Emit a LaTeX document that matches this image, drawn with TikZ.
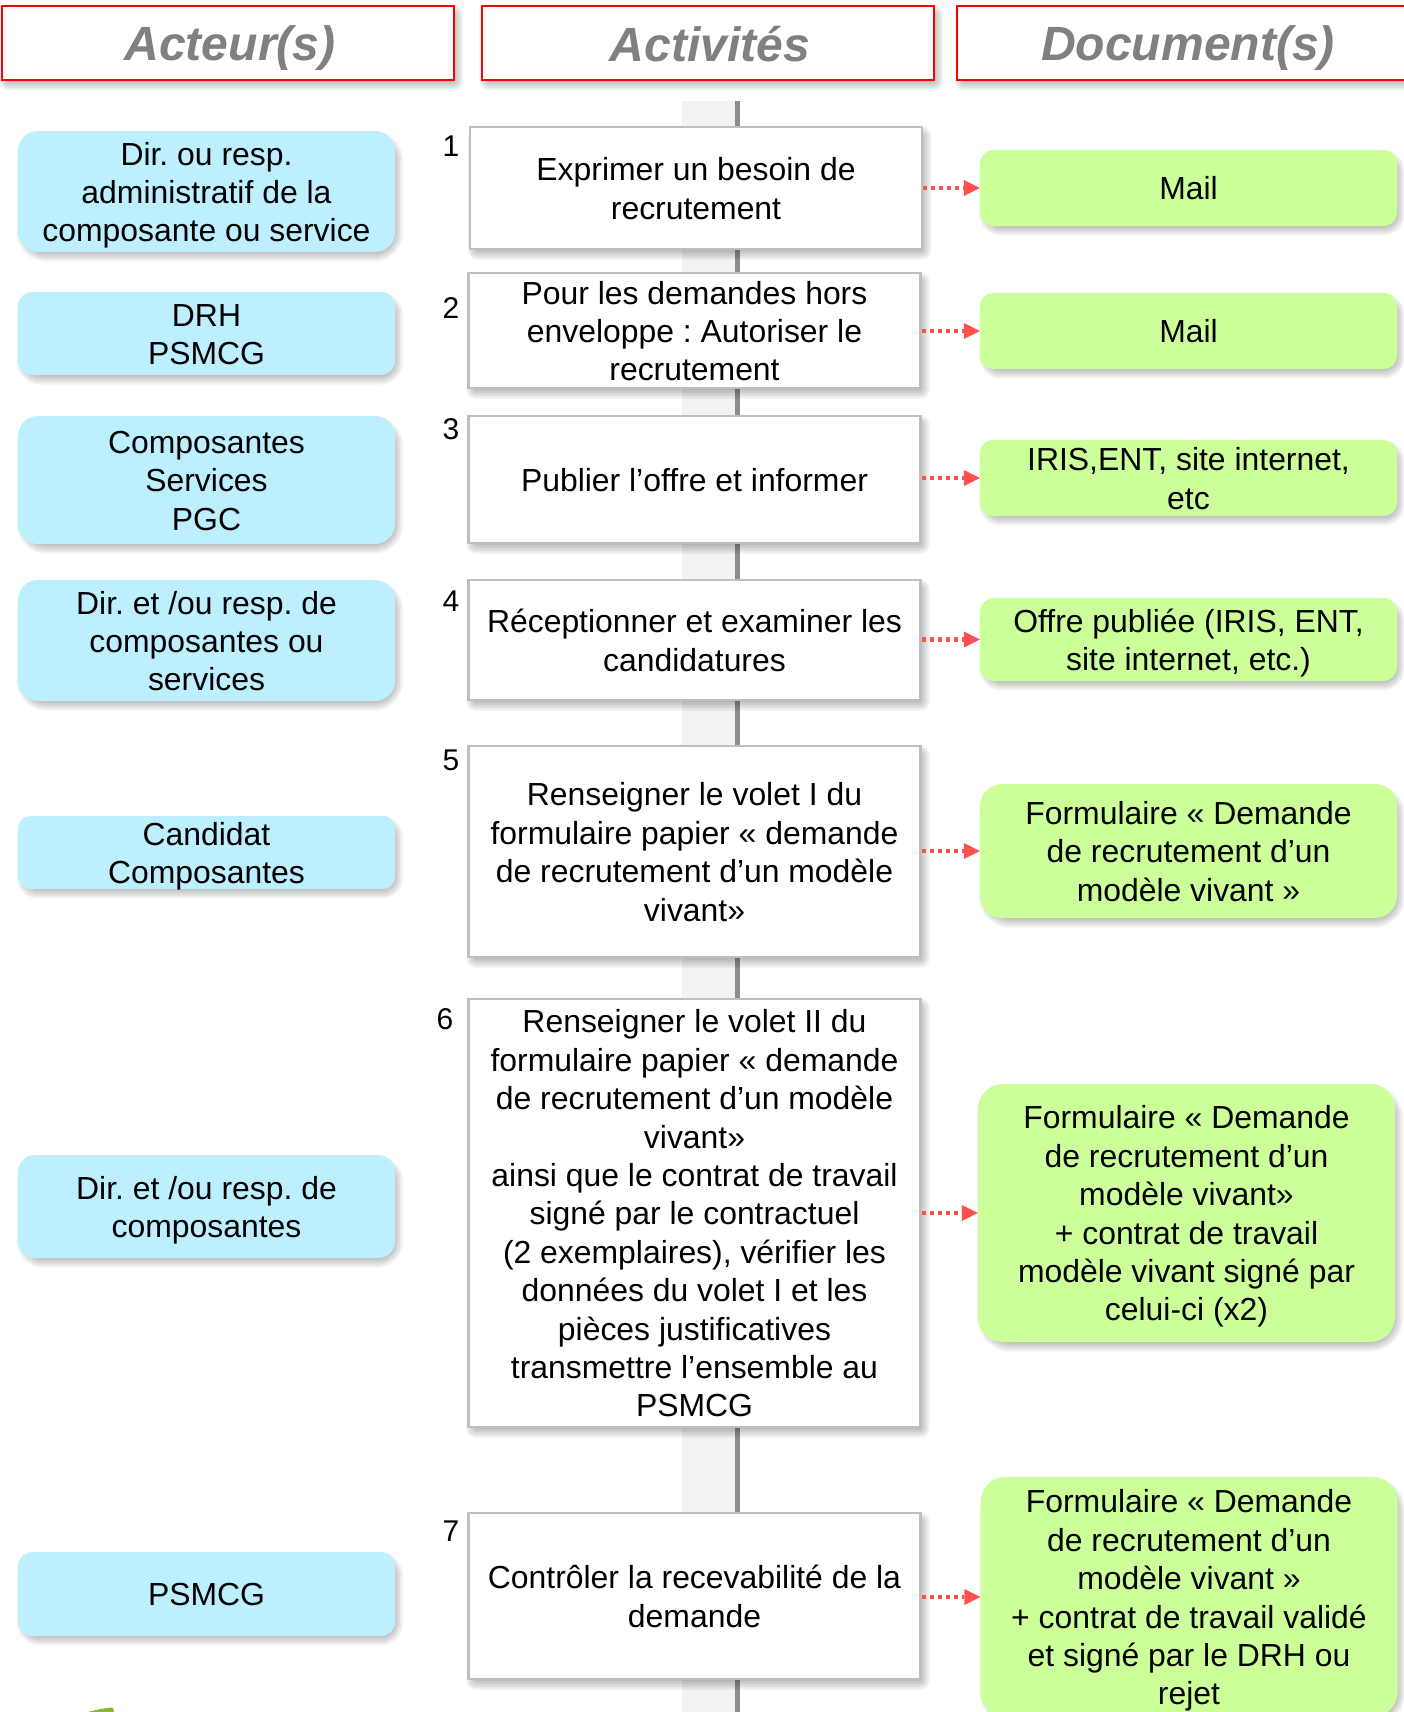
\documentclass[tikz,border=0pt]{standalone}
\usepackage{fontspec}
\setmainfont{Liberation Sans}
\usetikzlibrary{arrows.meta}
\pgfdeclarelayer{backdrop}
\pgfsetlayers{backdrop,main}
\definecolor{actorblue}{HTML}{BDEFFF}
\definecolor{docgreen}{HTML}{CCFF99}
\definecolor{headgray}{HTML}{808080}
\definecolor{boxgray}{HTML}{BFBFBF}
\definecolor{arrowred}{HTML}{FF5050}
\definecolor{spinefill}{HTML}{F2F2F2}
\definecolor{spineedge}{HTML}{8C8C8C}
\definecolor{leafgreen}{HTML}{8DB33A}
\tikzset{
  wh/.style 2 args={minimum width=#1bp,minimum height=#2bp},
  nlines/.code={\pgfmathsetlengthmacro\blockheight{(23.8+38.4*(#1-1))*1bp}\tikzset{text height=\blockheight,text depth=0bp}},
  bodytext/.style={font=\fontsize{31.9bp}{38.4bp}\selectfont\frenchspacing,align=center,inner sep=0pt,text=black},
  header/.style={draw=red,fill=white,line width=2.5bp,inner sep=0pt,
    font=\fontsize{48.1bp}{54bp}\selectfont\bfseries\itshape,text=headgray,
    execute at begin node={\rule{0pt}{45bp}\hspace*{4bp}},
    execute at end node={\rule[-9bp]{0pt}{9bp}}},
  actorbox/.style={bodytext,fill=actorblue},
  activity/.style={bodytext,draw=boxgray,fill=white,line width=2.5bp},
  docbox/.style={bodytext,fill=docgreen},
  stepnum/.style={font=\fontsize{30bp}{34bp}\selectfont,inner sep=0pt,text=black},
  flow/.style={draw=arrowred,line width=4.2bp,dash pattern=on 4bp off 4bp,
    -{Triangle[length=16bp,width=16bp,fill=arrowred,line width=0pt,sep=0pt]}},
  shadowlayer/.style={fill=black,opacity=.04},
}
\begin{document}
\begin{tikzpicture}[x=1bp,y=-1bp]
\path[use as bounding box,clip] (0,0) rectangle (1404,1712);
\begin{pgfonlayer}{backdrop}
\clip (0,0) rectangle (1404,1712);
\fill[white] (0,0) rectangle (1404,1712);
% spine
\fill[spineedge] (735,101) rectangle (739.5,1712);
\fill[spinefill] (682,101) rectangle (735,1712);
\end{pgfonlayer}
% headers
\node[header,wh={452}{73.5}] (h1) at (228,43) {Acteur(s)};
\node[header,wh={452}{73.5}] (h2) at (708,43) {Activités};
\node[header,wh={458}{73.5}] (h3) at (1186,43) {Document(s)};
% actors
\node[actorbox,nlines=3,wh={377}{121},rounded corners=20bp] (a1) at (206.5,191.5) {Dir. ou resp.\\administratif de la\\composante ou service};
\node[actorbox,nlines=2,wh={377}{83},rounded corners=14bp] (a2) at (206.5,333.5) {DRH\\PSMCG};
\node[actorbox,nlines=3,wh={377}{128},rounded corners=20bp] (a3) at (206.5,480) {Composantes\\Services\\PGC};
\node[actorbox,nlines=3,wh={377}{121},rounded corners=20bp] (a4) at (206.5,640.5) {Dir. et /ou resp. de\\composantes ou\\services};
\node[actorbox,nlines=2,wh={377}{73},rounded corners=12bp] (a5) at (206.5,852.5) {Candidat\\Composantes};
\node[actorbox,nlines=2,wh={377}{103},rounded corners=17bp] (a6) at (206.5,1206.5) {Dir. et /ou resp. de\\composantes};
\node[actorbox,nlines=1,wh={377}{84},rounded corners=14bp] (a7) at (206.5,1594) {PSMCG};
% activities
\node[activity,nlines=2,wh={452}{122}] (b1) at (696,188) {Exprimer un besoin de\\recrutement};
\node[activity,nlines=3,wh={452}{115}] (b2) at (694.5,330.5) {Pour les demandes hors\\enveloppe : Autoriser le\\recrutement};
\node[activity,nlines=1,wh={452}{127}] (b3) at (694.5,479.5) {Publier l’offre et informer};
\node[activity,nlines=2,wh={452}{120}] (b4) at (694.5,640) {Réceptionner et examiner les\\candidatures};
\node[activity,nlines=4,wh={452}{211}] (b5) at (694.5,851.5) {Renseigner le volet I du\\formulaire papier « demande\\de recrutement d’un modèle\\vivant»};
\node[activity,nlines=11,wh={452}{428}] (b6) at (694.5,1213) {Renseigner le volet II du\\formulaire papier « demande\\de recrutement d’un modèle\\vivant»\\ainsi que le contrat de travail\\signé par le contractuel\\(2 exemplaires), vérifier les\\données du volet I et les\\pièces justificatives\\transmettre l’ensemble au\\PSMCG};
\node[activity,nlines=2,wh={452}{166}] (b7) at (694.5,1596) {Contrôler la recevabilité de la\\demande};
% documents
\node[docbox,nlines=1,wh={417}{76},rounded corners=13bp] (d1) at (1188.5,188) {Mail};
\node[docbox,nlines=1,wh={417}{76},rounded corners=13bp] (d2) at (1188.5,331) {Mail};
\node[docbox,nlines=2,wh={417}{76},rounded corners=13bp] (d3) at (1188.5,478) {IRIS,ENT, site internet,\\etc};
\node[docbox,nlines=2,wh={417}{83},rounded corners=14bp] (d4) at (1188.5,639.5) {Offre publiée (IRIS, ENT,\\site internet, etc.)};
\node[docbox,nlines=3,wh={417}{134},rounded corners=22bp] (d5) at (1188.5,851) {Formulaire « Demande\\de recrutement d’un\\modèle vivant »};
\node[docbox,nlines=6,wh={417}{258},rounded corners=25bp] (d6) at (1186.5,1213) {Formulaire « Demande\\de recrutement d’un\\modèle vivant»\\+ contrat de travail\\modèle vivant signé par\\celui-ci (x2)};
\node[docbox,nlines=6,wh={417}{240},rounded corners=25bp] (d7) at (1189,1597) {Formulaire « Demande\\de recrutement d’un\\modèle vivant »\\+ contrat de travail validé\\et signé par le DRH ou\\rejet};
% soft shadows behind the boxes
\begin{pgfonlayer}{backdrop}
\clip (0,0) rectangle (1404,1712);
\foreach \n/\r in {h1/0,h2/0,h3/0,a1/20,a2/14,a3/20,a4/20,a5/12,a6/17,a7/14,b1/0,b2/0,b3/0,b4/0,b5/0,b6/0,b7/0,d1/13,d2/13,d3/13,d4/14,d5/22,d6/25,d7/25}{
  \foreach \e in {4.5,3,1.5,0,-1.5,-3,-4.5}{
    \pgfmathsetmacro{\cr}{\r+4.5+\e}
    \fill[shadowlayer,rounded corners=\cr bp]
      ([shift={(3.5-\e,5+\e)}]\n.south west) rectangle ([shift={(3.5+\e,5-\e)}]\n.north east);
  }
}
\end{pgfonlayer}
% connectors
\foreach \i in {1,...,7}{
  \draw[flow] (b\i.east |- d\i.west) -- (d\i.west);
}
% step numbers
\node[stepnum] (n1) at (451,146) {1};
\node[stepnum] (n2) at (451,308) {2};
\node[stepnum] (n3) at (451,429) {3};
\node[stepnum] (n4) at (451,601) {4};
\node[stepnum] (n5) at (451,760) {5};
\node[stepnum] (n6) at (445,1019) {6};
\node[stepnum] (n7) at (451,1531) {7};
% logo fragment at the lower edge
\fill[leafgreen] (88,1712) .. controls (95,1710) and (104,1708) .. (113,1707.5) -- (114,1712) -- cycle;
\end{tikzpicture}
\end{document}
